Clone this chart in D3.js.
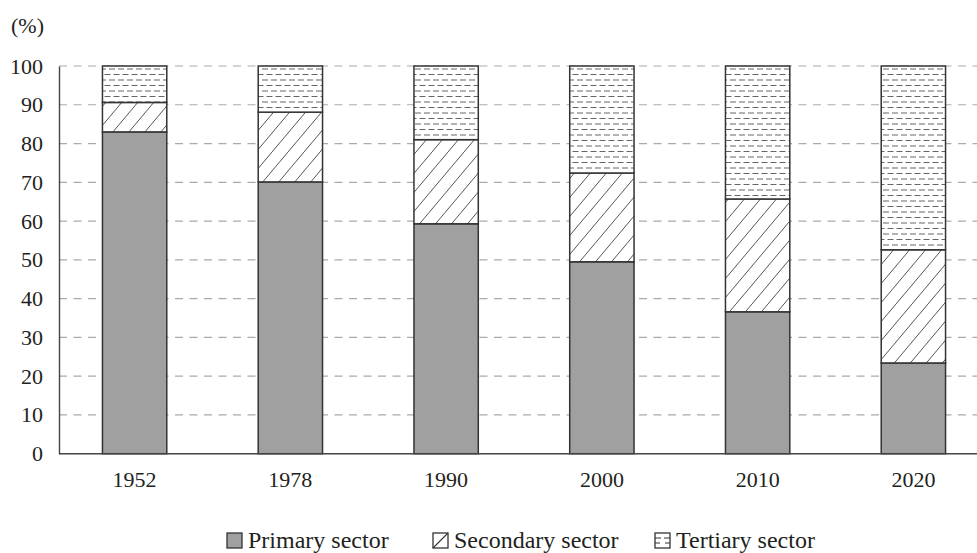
<!DOCTYPE html>
<html>
<head>
<meta charset="utf-8">
<script src="https://cdn.jsdelivr.net/npm/d3@7"></script>
<style>
  body { margin: 0; background: #fff; }
  svg text { font-family: "Liberation Serif", "Times New Roman", Times, serif; fill: #231f20; }
</style>
</head>
<body>
<div id="chart"></div>
<script>
// data (share of employment, %)
var years = ["1952", "1978", "1990", "2000", "2010", "2020"];
var primary = [83.0, 70.1, 59.3, 49.5, 36.6, 23.4];
var secondary = [7.6, 18.0, 21.7, 22.9, 29.1, 29.2];
var tertiary = [9.4, 11.9, 19.0, 27.6, 34.3, 47.4];
var yTicks = [0, 10, 20, 30, 40, 50, 60, 70, 80, 90, 100];
var sectors = ["Primary sector", "Secondary sector", "Tertiary sector"];

var width = 977, height = 553;

var svg = d3.select("#chart").append("svg")
    .attr("width", width)
    .attr("height", height);

// patterns
var defs = svg.append("defs");

var hatch = defs.append("pattern")
    .attr("id", "hatch")
    .attr("patternUnits", "userSpaceOnUse")
    .attr("width", 16)
    .attr("height", 19);
hatch.append("rect").attr("width", 16).attr("height", 19).attr("fill", "#fff");
hatch.append("path")
    .attr("d", "M0,19 L16,0 M-2,2.4 L2,-2.4 M14,21.4 L18,16.6")
    .attr("stroke", "#555")
    .attr("stroke-width", 1);

var dashes = defs.append("pattern")
    .attr("id", "dashes")
    .attr("patternUnits", "userSpaceOnUse")
    .attr("width", 18)
    .attr("height", 11);
dashes.append("rect").attr("width", 18).attr("height", 11).attr("fill", "#fff");
dashes.append("path")
    .attr("d", "M1,3 L7,3 M10,3 L16,3 M-3.5,8.5 L2.5,8.5 M5.5,8.5 L11.5,8.5 M14.5,8.5 L20.5,8.5")
    .attr("stroke", "#666")
    .attr("stroke-width", 1);

var fills = ["#a0a0a0", "url(#hatch)", "url(#dashes)"];

// scales
var x = d3.scaleBand()
    .domain(years)
    .range([59, 989])
    .paddingInner(0.587)
    .paddingOuter(0.279);

var y = d3.scaleLinear()
    .domain([0, 100])
    .range([453.7, 66]);

// gridlines
svg.append("g")
    .selectAll("line")
    .data(yTicks.filter(function(d) { return d > 0; }))
  .enter().append("line")
    .attr("x1", 59)
    .attr("x2", 977)
    .attr("y1", function(d) { return y(d); })
    .attr("y2", function(d) { return y(d); })
    .attr("stroke", "#aaa")
    .attr("stroke-width", 1.2)
    .attr("stroke-dasharray", "8,6.5");

// stacked bars
var table = years.map(function(yr, i) {
  return { year: yr, primary: primary[i], secondary: secondary[i], tertiary: tertiary[i] };
});
var stack = d3.stack().keys(["primary", "secondary", "tertiary"])(table);

var layers = svg.append("g")
    .selectAll("g")
    .data(stack)
  .enter().append("g")
    .attr("fill", function(d, i) { return fills[i]; });

layers.selectAll("rect")
    .data(function(d) { return d; })
  .enter().append("rect")
    .attr("x", function(d) { return x(d.data.year); })
    .attr("width", x.bandwidth())
    .attr("y", function(d) { return y(d[1]); })
    .attr("height", function(d) { return y(d[0]) - y(d[1]); })
    .attr("stroke", "#333")
    .attr("stroke-width", 1.5);

// axes
var yAxis = d3.axisLeft(y).tickValues(yTicks).tickSize(0).tickPadding(16);
var gy = svg.append("g")
    .attr("transform", "translate(59,0)")
    .call(yAxis)
    .attr("font-family", null);
gy.select(".domain").attr("stroke", "#444").attr("stroke-width", 1.4);
gy.selectAll("text")
    .style("font-size", "22px")
    .attr("fill", "#231f20");

var xAxis = d3.axisBottom(x).tickSize(0).tickPadding(0);
var gx = svg.append("g")
    .attr("transform", "translate(0,453.7)")
    .call(xAxis)
    .attr("font-family", null);
gx.select(".domain").attr("d", "M59,0H977").attr("stroke", "#444").attr("stroke-width", 1.4);
gx.selectAll("text")
    .style("font-size", "22px")
    .attr("fill", "#231f20")
    .attr("dy", null)
    .attr("y", 33);

// unit label
svg.append("text")
    .attr("x", 11)
    .attr("y", 33)
    .style("font-size", "22px")
    .text("(%)");

// legend
var legendX = [227, 433, 655];
var legend = svg.append("g")
    .selectAll("g")
    .data(sectors)
  .enter().append("g")
    .attr("transform", function(d, i) { return "translate(" + legendX[i] + ",533)"; });

legend.append("rect")
    .attr("width", 15)
    .attr("height", 15)
    .attr("fill", function(d, i) { return i == 0 ? "#a0a0a0" : "#fff"; })
    .attr("stroke", "#333")
    .attr("stroke-width", 1.3);

// little marks inside the legend boxes
legend.filter(function(d, i) { return i == 1; })
  .append("path")
    .attr("d", "M0,15 L15,0")
    .attr("stroke", "#333")
    .attr("stroke-width", 1.1);
legend.filter(function(d, i) { return i == 2; })
  .append("path")
    .attr("d", "M0,5 L6,5 M0,10 L5,10 M9,5 L15,5 M10,10 L15,10")
    .attr("stroke", "#333")
    .attr("stroke-width", 1.1);

legend.append("text")
    .attr("x", 21)
    .attr("y", 15)
    .style("font-size", "24px")
    .text(function(d) { return d; });
</script>
</body>
</html>
